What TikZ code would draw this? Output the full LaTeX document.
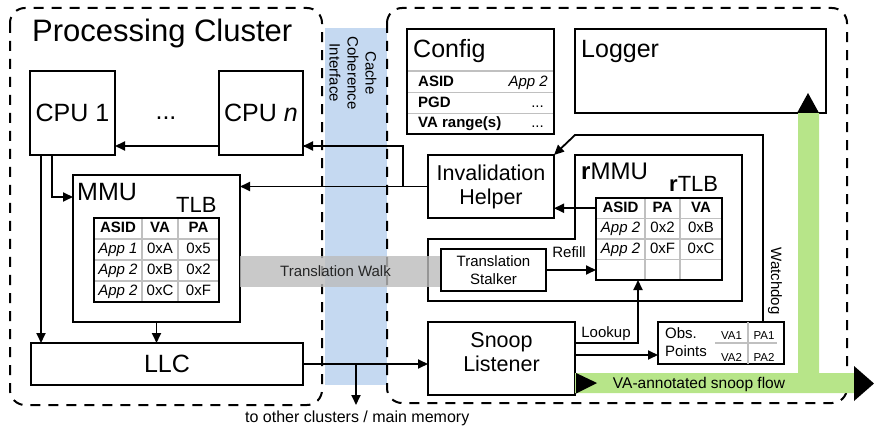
\documentclass[tikz,border=0pt]{standalone}
\usepackage{fontspec}
\setmainfont{Liberation Sans}
\usetikzlibrary{arrows.meta,matrix}
\definecolor{ccblue}{RGB}{197,217,241}
\definecolor{flowgreen}{RGB}{183,229,137}
\definecolor{gridgray}{RGB}{192,192,192}
\definecolor{walkgray}{RGB}{188,188,188}
\tikzset{
  box/.style={draw, line width=2pt, fill=white, inner sep=0pt, outer sep=0pt},
  arr/.style={line width=1.8pt, -{Triangle[length=10pt,width=9pt]}},
  cluster/.style={draw, line width=2pt, dash pattern=on 10pt off 8pt, rounded corners=15pt},
  gridln/.style={draw=gridgray, line width=1.8pt},
  f31/.style={font=\fontsize{31}{36}\selectfont},
  f25/.style={font=\fontsize{25}{29}\selectfont},
  f24/.style={font=\fontsize{24}{28}\selectfont},
  f22/.style={font=\fontsize{22}{25}\selectfont},
  f21/.style={font=\fontsize{21.5}{24}\selectfont},
  f16/.style={font=\fontsize{16}{19}\selectfont},
  f15/.style={font=\fontsize{15}{18}\selectfont},
  f15b/.style={font=\fontsize{15}{18}\selectfont\bfseries},
  f11/.style={font=\fontsize{11.5}{13}\selectfont},
  tbl/.style={matrix of nodes, inner sep=0pt, outer sep=0pt, column sep=0pt, row sep=0pt,
    nodes in empty cells,
    nodes={inner sep=0pt, outer sep=0pt, anchor=center, text height=11pt, text depth=3pt,
      font=\fontsize{15}{17}\selectfont}},
}
\begin{document}
\begin{tikzpicture}[x=1pt,y=-1pt]
\useasboundingbox (0,0) rectangle (874,427);
% cache coherence band
\fill[ccblue] (325,28) rectangle (387,385);
% clusters
\draw[cluster] (10,8) rectangle (322,405);
\draw[cluster] (387,8) rectangle (847,403);
\node[f15, rotate=-90, align=center, inner sep=0pt] (cci) at (353,73) {Cache\\Coherence\\Interface};
\node[f31, anchor=base west, inner sep=0pt] (pc) at (32,42) {Processing Cluster};

% CPUs
\node[box, f25, minimum width=85pt, minimum height=84pt] (cpu1) at (72.5,113) {CPU 1};
\coordinate (cpuy) at (403,146);
\coordinate (ihj) at (403,186.5);
\draw[arr] (cpuy) -- (cpu1.east |- cpuy);
\node[box, f25, minimum width=84pt, minimum height=84pt] (cpun) at (261,113) {CPU \textit{n}};
\node[f25, anchor=base, inner sep=0pt] (dots) at (166,120) {...};

% MMU
\node[box, minimum width=167pt, minimum height=147pt] (mmu) at (156.5,248.5) {};
\node[f25, anchor=base west, inner sep=0pt] (mmulbl) at (77,201) {MMU};
\node[f22, anchor=base west, inner sep=0pt] (tlblbl) at (176,213) {TLB};
\matrix (tlb) [tbl, anchor=north west,
  column 1/.style={nodes={minimum width=48pt}},
  column 2/.style={nodes={minimum width=36pt}},
  column 3/.style={nodes={minimum width=41pt}},
  row 1/.style={nodes={font=\fontsize{15}{17}\selectfont\bfseries}},
  nodes={minimum height=21pt}] at (94,218) {
  ASID & VA & PA \\
  \textit{App 1} & 0xA & 0x5 \\
  \textit{App 2} & 0xB & 0x2 \\
  \textit{App 2} & 0xC & 0xF \\
};
\foreach \c in {1,2} \draw[gridln] (tlb-1-\c.north east) -- (tlb-4-\c.south east);
\foreach \r in {1,2,3} \draw[gridln] (tlb-\r-1.south west) -- (tlb-\r-3.south east);
\draw[line width=2pt] (tlb.north west) rectangle (tlb.south east);

% LLC
\node[box, f25, minimum width=272pt, minimum height=42pt] (llc) at (167,364) {LLC};

% Config
\node[box, minimum width=147pt, minimum height=105pt] (cfg) at (480.5,81.5) {};
\node[f25, anchor=base west, inner sep=0pt] (cfglbl) at (413,58) {Config};
\foreach \yy in {71,92.5,113.5} \draw[gridln] (cfg.west |- 0,\yy) -- (cfg.east |- 0,\yy);
\draw[line width=2pt] (cfg.north west) rectangle (cfg.south east);
\node[f15b, anchor=base west, inner sep=0pt] (cfgk1) at (418,86.7) {ASID};
\node[f15, anchor=base east, inner sep=0pt] (cfgv1) at (548,86.7) {\textit{App 2}};
\node[f15b, anchor=base west, inner sep=0pt] (cfgk2) at (418,107.3) {PGD};
\node[f15, anchor=base east, inner sep=0pt] (cfgv2) at (544,107.3) {...};
\node[f15b, anchor=base west, inner sep=0pt] (cfgk3) at (418,128) {VA range(s)};
\node[f15, anchor=base east, inner sep=0pt] (cfgv3) at (544,128) {...};

% Logger
\node[box, minimum width=251pt, minimum height=84pt] (log) at (700.5,71) {};
\node[f25, anchor=base west, inner sep=0pt] (loglbl) at (581,57.5) {Logger};

% Invalidation helper
\node[box, f21, align=center, minimum width=126pt, minimum height=63pt] (ih) at (491,186.5) {Invalidation\\Helper};

% rMMU outline
\draw[line width=2pt, fill=white] (575,155) -- (742,155) -- (742,301) -- (428,301) -- (428,239) -- (575,239) -- cycle;
\node[f24, anchor=base west, inner sep=0pt] (rmmulbl) at (581,180) {\textbf{r}MMU};
\node[f22, anchor=base west, inner sep=0pt] (rtlblbl) at (669,192) {\textbf{r}TLB};
\matrix (rtlb) [tbl, anchor=north west,
  column 1/.style={nodes={minimum width=49pt}},
  column 2/.style={nodes={minimum width=35pt}},
  column 3/.style={nodes={minimum width=42pt}},
  row 1/.style={nodes={font=\fontsize{15}{17}\selectfont\bfseries}},
  nodes={minimum height=20.5pt}] at (596,198) {
  ASID & PA & VA \\
  \textit{App 2} & 0x2 & 0xB \\
  \textit{App 2} & 0xF & 0xC \\
   & & \\
};
\foreach \c in {1,2} \draw[gridln] (rtlb-1-\c.north east) -- (rtlb-4-\c.south east);
\foreach \r in {1,2,3} \draw[gridln] (rtlb-\r-1.south west) -- (rtlb-\r-3.south east);
\draw[line width=2pt] (rtlb.north west) rectangle (rtlb.south east);

% Translation walk band
\fill[walkgray, opacity=0.8] (240,256) rectangle (441,287);
\node[f15, inner sep=0pt, text=black!85] (twlbl) at (335.5,271) {Translation Walk};

% Translation stalker
\node[box, f15, align=center, minimum width=105pt, minimum height=42pt] (ts) at (493.5,270) {Translation\\Stalker};

% Snoop listener
\node[box, minimum width=147pt, minimum height=73pt] (sl) at (501.5,358.5) {};
\node[f21, align=center, inner sep=0pt] (sllbl) at (501.5,352) {Snoop\\Listener};

% Obs points
\node[box, minimum width=126pt, minimum height=42pt] (obs) at (721,343) {};
\node[f15, align=left, anchor=west, inner sep=0pt] (obslbl) at (665,342.5) {Obs.\\Points};
\draw[gridln, line width=1.5pt] (715,343) -- (777,343);
\draw[gridln, line width=1.5pt] (obs.north -| 748,0) -- (obs.south -| 748,0);
\node[f11, inner sep=0pt] (va1) at (731.5,336) {VA1};
\node[f11, inner sep=0pt] (pa1) at (764,336) {PA1};
\node[f11, inner sep=0pt] (va2) at (731.5,357) {VA2};
\node[f11, inner sep=0pt] (pa2) at (764,357) {PA2};

% VA-annotated snoop flow
\fill[flowgreen] (798,113) -- (819,113) -- (819,373) -- (855,373) -- (855,393) -- (575,393) -- (575,373) -- (798,373) -- cycle;
\fill (797,113) -- (819,113) -- (808,93) -- cycle;
\fill (576,373) -- (597,383) -- (576,393.5) -- cycle;
\fill (854,366) -- (874,383.5) -- (854,401) -- cycle;
\node[font=\fontsize{15.5}{18}\selectfont, anchor=base, inner sep=0pt] (flowlbl) at (699,388) {VA-annotated snoop flow};

% connectors
\draw[arr] (ih.west) -- (mmu.east |- ih.west);
\draw[arr] (ihj) -- (cpuy) -- (cpun.east |- cpuy);
\coordinate (c1m) at (52,197);
\draw[arr] (cpu1.south -| c1m) -- (c1m) -- (mmu.west |- c1m);
\coordinate (c1l) at (41,0);
\draw[arr] (cpu1.south -| c1l) -- (llc.north -| c1l);
\draw[arr] (mmu.south) -- (llc.north -| mmu.south);
\draw[arr] (llc.east) -- (sl.west |- llc.east);
\coordinate (mbr) at (356,364);
\coordinate (mtip) at (356,405);
\draw[arr] (mbr) -- (mtip);
\node[f16, anchor=base west, inner sep=0pt] (memlbl) at (245,422) {to other clusters / main memory};

\draw[arr] (rtlb-1-1.west) -- (ih.east |- rtlb-1-1.west);
\draw[arr] (ts.east) -- (rtlb.west |- ts.east);
\node[f15, anchor=base, inner sep=0pt] (refill) at (569,258) {Refill};
\coordinate (lk) at (638,343);
\draw[arr] (sl.east |- lk) -- (lk) -- (rtlb.south -| lk);
\node[f15, anchor=base, inner sep=0pt] (lookup) at (606,337) {Lookup};
\coordinate (so) at (0,355);
\draw[arr] (sl.east |- so) -- (obs.west |- so);
\coordinate (wdA) at (763,135);
\coordinate (wdB) at (575,135);
\draw[arr] (obs.north -| wdA) -- (wdA) -- (wdB) -- (ih.north east);
\node[f15, rotate=-90, inner sep=0pt] (wd) at (775,281) {Watchdog};
\end{tikzpicture}
\end{document}
